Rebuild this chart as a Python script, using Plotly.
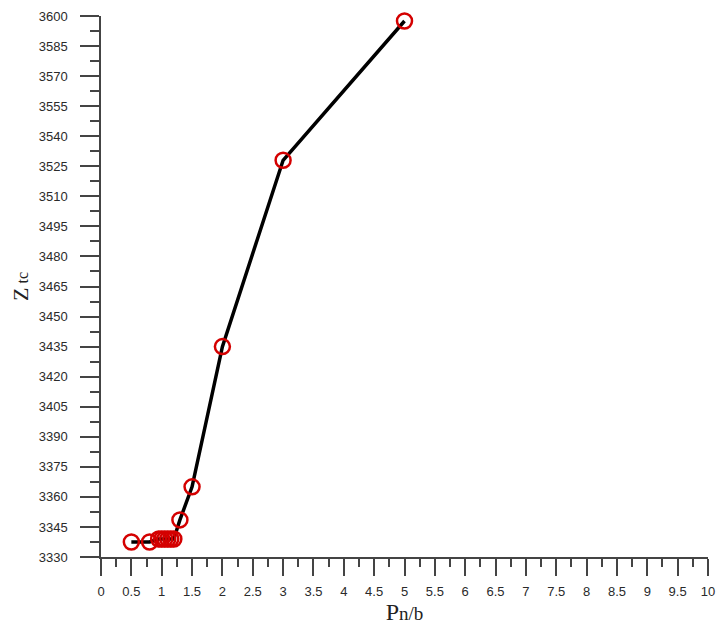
import plotly.graph_objects as go

pnb = [0.5, 0.8, 0.95, 1.0, 1.05, 1.1, 1.15, 1.2, 1.3, 1.5, 2.0, 3.0, 5.0]
ztc = [3337.5, 3337.5, 3339.0, 3339.0, 3339.0, 3339.0, 3339.0, 3339.0, 3348.5, 3365.0, 3435.0, 3528.0, 3597.5]

fig = go.Figure()
fig.add_trace(go.Scatter(
    x=pnb, y=ztc, mode="lines+markers",
    line=dict(color="black", width=3.5),
    marker=dict(symbol="circle-open", size=15, color="#d40000", line=dict(width=2.5, color="#d40000")),
    cliponaxis=False,
    showlegend=False,
))

axcol = "#444444"
tfont = dict(family="Liberation Sans, Arial", size=13, color="#2a2a2a")
fig.update_layout(
    width=724, height=626,
    margin=dict(l=101, r=9, t=16, b=69),
    paper_bgcolor="white", plot_bgcolor="white",
    xaxis=dict(
        range=[0, 10], dtick=0.5, tick0=0,
        showgrid=False, zeroline=False,
        showline=True, linecolor=axcol, linewidth=1.5,
        ticks="outside", ticklen=17, tickwidth=1.5, tickcolor=axcol,
        minor=dict(dtick=0.25, ticks="outside", ticklen=8, tickwidth=1.5, tickcolor=axcol),
        tickfont=tfont,
        ticklabelstandoff=5,
        title=dict(text="P<span style='font-size:19px'>n/b</span>",
                   font=dict(family="Liberation Serif, Times New Roman", size=24, color="#222222"), standoff=0),
    ),
    yaxis=dict(
        range=[3330, 3600], dtick=15, tick0=3330,
        showgrid=False, zeroline=False,
        showline=True, linecolor=axcol, linewidth=1.5,
        ticks="outside", ticklen=19, tickwidth=1.5, tickcolor=axcol,
        minor=dict(dtick=7.5, ticks="outside", ticklen=9, tickwidth=1.5, tickcolor=axcol),
        tickfont=tfont,
        ticklabelstandoff=10,
        title=dict(text="Z<span style='font-size:16px'> tc</span>",
                   font=dict(family="Liberation Serif, Times New Roman", size=22, color="#222222"), standoff=4),
    ),
)

fig.write_html("out.html")
